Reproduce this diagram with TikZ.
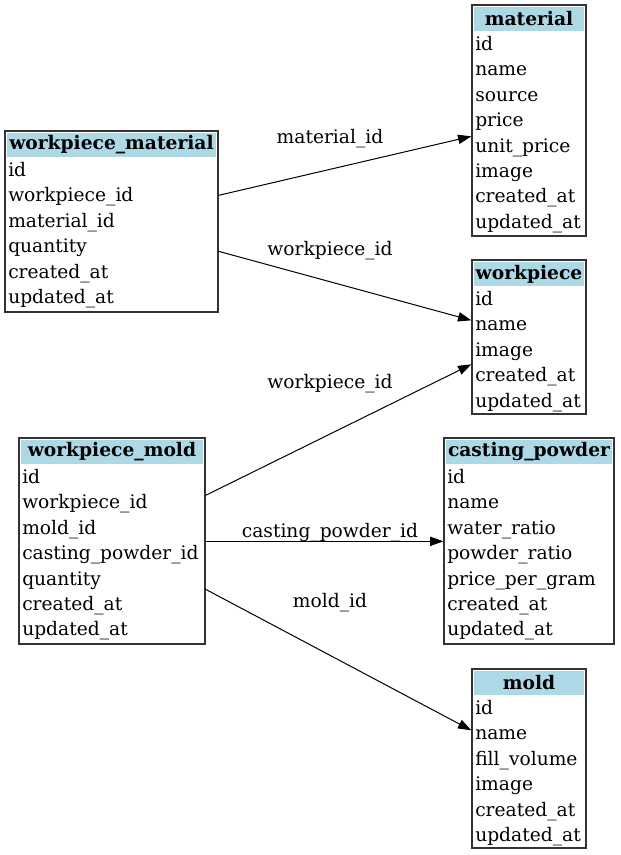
\documentclass[tikz,border=0pt]{standalone}
\usepackage{fontspec}
\setmainfont{DejaVu Serif}
\usetikzlibrary{fit,calc,arrows.meta}
\definecolor{hdr}{HTML}{ADD8E6}
\definecolor{bord}{HTML}{333333}
\tikzset{
  tbox/.style={draw=bord, line width=1pt, inner sep=0pt, fit={#1}},
  thead/.style={fill=hdr, inner sep=0pt, fit={#1}},
  ttitle/.style={font=\fontsize{14}{16}\selectfont\bfseries, inner sep=0pt},
  trow/.style={anchor=mid west, inner sep=0pt},
  fk/.style={draw=black, line width=0.75pt, -{Triangle[length=10pt,width=7pt]}},
  elabel/.style={inner sep=0pt}
}
\newcommand\tblrows[4]{%
  \foreach \r [count=\i from 0] in {#4} {
    \node[trow] (#1-\i) at (#2+3, #3+42+25.4*\i) {\r};
  }%
}
\begin{document}
\begin{tikzpicture}[x=0.75pt, y=-0.75pt, font=\fontsize{14}{16}\selectfont]
\useasboundingbox (0,0) rectangle (620,855);

% workpiece_material
\node[thead={(7,133)(216,157)}] (wmh) {};
\node[ttitle] (wmt) at (wmh.center) {workpiece\_material};
\node[tbox={(5,131)(218,312)}] (wm) {};
\tblrows{wm}{5}{131}{id,workpiece\_id,material\_id,quantity,created\_at,updated\_at}

% material
\node[thead={(474,7)(584,31)}] (math) {};
\node[ttitle] (matt) at (math.center) {material};
\node[tbox={(472,5)(586,236)}] (mat) {};
\tblrows{mat}{472}{5}{id,name,source,price,unit\_price,image,created\_at,updated\_at}

% workpiece
\node[thead={(474,262)(584,286)}] (wph) {};
\node[ttitle] (wpt) at (wph.center) {workpiece};
\node[tbox={(472,260)(586,414)}] (wp) {};
\tblrows{wp}{472}{260}{id,name,image,created\_at,updated\_at}

% workpiece_mold
\node[thead={(21,440)(203,464)}] (wmoh) {};
\node[ttitle] (wmot) at (wmoh.center) {workpiece\_mold};
\node[tbox={(19,438)(205,644)}] (wmo) {};
\tblrows{wmo}{19}{438}{id,workpiece\_id,mold\_id,casting\_powder\_id,quantity,created\_at,updated\_at}

% casting_powder
\node[thead={(446,440)(612,464)}] (cph) {};
\node[ttitle] (cpt) at (cph.center) {casting\_powder};
\node[tbox={(444,438)(614,644)}] (cp) {};
\tblrows{cp}{444}{438}{id,name,water\_ratio,powder\_ratio,price\_per\_gram,created\_at,updated\_at}

% mold
\node[thead={(474,671)(584,695)}] (moh) {};
\node[ttitle] (mot) at (moh.center) {mold};
\node[tbox={(472,669)(586,848)}] (mo) {};
\tblrows{mo}{472}{669}{id,name,fill\_volume,image,created\_at,updated\_at}

% connectors
\draw[fk] ($(wm.north east)+(0,65)$) -- ($(mat.north west)+(0,132)$);
\draw[fk] ($(wm.north east)+(0,121)$) -- ($(wp.north west)+(0,61)$);
\draw[fk] ($(wmo.north east)+(0,58)$) -- ($(wp.north west)+(0,105)$);
\draw[fk] ($(wmo.north east)+(0,104)$) -- ($(cp.north west)+(0,104)$);
\draw[fk] ($(wmo.north east)+(0,152)$) -- ($(mo.north west)+(0,62)$);

% labels
\node[elabel] (l1) at (330,139) {material\_id};
\node[elabel] (l2) at (330,251) {workpiece\_id};
\node[elabel] (l3) at (330,384) {workpiece\_id};
\node[elabel] (l4) at (330,533) {casting\_powder\_id};
\node[elabel] (l5) at (330,603) {mold\_id};
\end{tikzpicture}
\end{document}
